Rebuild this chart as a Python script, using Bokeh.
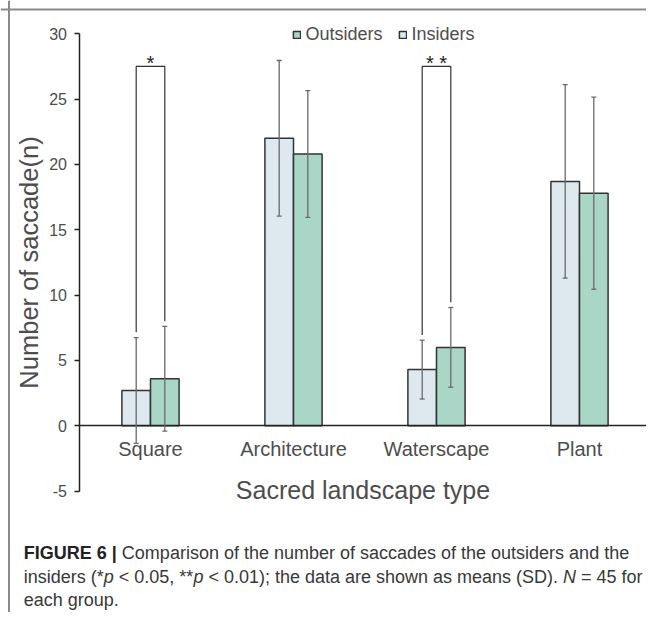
from bokeh.plotting import figure
from bokeh.models import (Range1d, FixedTicker, ColumnDataSource, Whisker, TeeHead,
                          Legend, LegendItem, Label, Span)
from bokeh.core.properties import value
from bokeh.embed import file_html
from bokeh.resources import INLINE

# ---------------- data ----------------
categories = ["Square", "Architecture", "Waterscape", "Plant"]
insiders_mean = [2.7, 22.0, 4.3, 18.7]
insiders_sd = [4.05, 5.95, 2.25, 7.4]
outsiders_mean = [3.6, 20.8, 6.0, 17.8]
outsiders_sd = [4.0, 4.85, 3.05, 7.35]
series_names = ["Outsiders", "Insiders"]
sig_index = [0, 2]
sig_height = [27.5, 27.5]
sig_marks = ["*", "* *"]
y_ticks = [-5, 0, 5, 10, 15, 20, 25, 30]
y_tick_labels = ["-5", "0", "5", "10", "15", "20", "25", "30"]
x_title = "Sacred landscape type"
y_title = "Number of saccade(n)"
caption = [
    [("FIGURE 6 |", "bold"), (" Comparison of the number of saccades of the outsiders and the", "normal")],
    [("insiders (*", "normal"), ("p", "italic"), (" < 0.05, **", "normal"), ("p", "italic"),
     (" < 0.01); the data are shown as means (SD). ", "normal"), ("N", "italic"), (" = 45 for", "normal")],
    [("each group.", "normal")],
]

# ---------------- styles ----------------
W, H = 646, 612
PX_PER_UNIT = 13.07
ZERO_Y = 425.3          # canvas px of y = 0
X0, DX = 150.0, 143.0   # canvas px of first category centre, spacing
BAR_W = 0.2
FONT = "Liberation Sans"
TXT = "#4d4d4d"
INS_COLOR = "#dde8ef"
OUT_COLOR = "#a9d6c6"
EDGE = "#333333"
ERR = "#6a6a6a"
LEG_GAP = 0.4

pos = list(range(len(categories)))
x_ins = [i - BAR_W / 2 for i in pos]
x_out = [i + BAR_W / 2 for i in pos]
ins_hi = [m + s for m, s in zip(insiders_mean, insiders_sd)]
ins_lo = [m - s for m, s in zip(insiders_mean, insiders_sd)]
out_hi = [m + s for m, s in zip(outsiders_mean, outsiders_sd)]
out_lo = [m - s for m, s in zip(outsiders_mean, outsiders_sd)]

src = ColumnDataSource(dict(x_ins=x_ins, x_out=x_out, ins=insiders_mean, out=outsiders_mean,
                            ins_hi=ins_hi, ins_lo=ins_lo, out_hi=out_hi, out_lo=out_lo))

p = figure(width=W, height=H, output_backend="svg", toolbar_location=None,
           x_range=Range1d(-X0 / DX, (W - X0) / DX),
           y_range=Range1d(-(H - ZERO_Y) / PX_PER_UNIT, ZERO_Y / PX_PER_UNIT),
           min_border=0, outline_line_color=None)
p.xgrid.visible = False
p.ygrid.visible = False
p.background_fill_color = "white"

# axes
xa = p.xaxis[0]
xa.fixed_location = 0
xa.bounds = (-0.5, len(categories) - 0.5)
xa.ticker = FixedTicker(ticks=pos)
xa.major_label_overrides = {i: c for i, c in zip(pos, categories)}
xa.major_tick_line_color = None
xa.minor_tick_line_color = None
xa.major_tick_out = 0
xa.major_label_standoff = 12
xa.axis_line_color = "#222222"
xa.axis_line_width = 1.5
xa.major_label_text_font = FONT
xa.major_label_text_font_size = "20px"
xa.major_label_text_color = TXT
xa.axis_label = x_title
xa.axis_label_text_font = FONT
xa.axis_label_text_font_size = "25px"
xa.axis_label_text_font_style = "normal"
xa.axis_label_text_color = TXT
xa.axis_label_standoff = 13

ya = p.yaxis[0]
ya.fixed_location = -0.5
ya.bounds = (y_ticks[0], y_ticks[-1])
ya.ticker = FixedTicker(ticks=y_ticks)
ya.major_label_overrides = {t: l for t, l in zip(y_ticks, y_tick_labels)}
ya.minor_tick_line_color = None
ya.major_tick_in = 0
ya.major_tick_out = 5
ya.major_tick_line_color = "#222222"
ya.major_tick_line_width = 1.5
ya.major_label_standoff = 7
ya.axis_line_color = "#222222"
ya.axis_line_width = 1.5
ya.major_label_text_font = FONT
ya.major_label_text_font_size = "16px"
ya.major_label_text_color = TXT
ya.axis_label = y_title
ya.axis_label_text_font = FONT
ya.axis_label_text_font_size = "25.5px"
ya.axis_label_text_font_style = "normal"
ya.axis_label_text_color = TXT
ya.axis_label_standoff = 4

# bars
r_ins = p.vbar(x="x_ins", top="ins", bottom=0, width=BAR_W, source=src,
               fill_color=INS_COLOR, line_color=EDGE, line_width=1.5)
r_out = p.vbar(x="x_out", top="out", bottom=0, width=BAR_W, source=src,
               fill_color=OUT_COLOR, line_color=EDGE, line_width=1.5)

# error bars
for base, up, lo in (("x_ins", "ins_hi", "ins_lo"), ("x_out", "out_hi", "out_lo")):
    p.add_layout(Whisker(source=src, base=base, upper=up, lower=lo, level="overlay",
                         line_color=ERR, line_width=1.3,
                         upper_head=TeeHead(size=5, line_color=ERR, line_width=1.3),
                         lower_head=TeeHead(size=5, line_color=ERR, line_width=1.3)))

# significance brackets
bx, by = [], []
for k, i in enumerate(sig_index):
    bx.append([x_ins[i], x_ins[i], x_out[i], x_out[i]])
    by.append([ins_hi[i] + LEG_GAP, sig_height[k], sig_height[k], out_hi[i] + LEG_GAP])
p.multi_line(xs=bx, ys=by, line_color="#333333", line_width=1.2)
p.text(x=[pos[i] for i in sig_index], y=sig_height, text=sig_marks,
       text_align="center", text_baseline="alphabetic", y_offset=-3,
       text_font=value(FONT), text_font_size="20px", text_color="#222222")

# legend
legend = Legend(items=[LegendItem(label=series_names[0], renderers=[r_out]),
                       LegendItem(label=series_names[1], renderers=[r_ins])],
                orientation="horizontal", location=(291.5, 567.5),
                padding=0, margin=0, spacing=15, label_standoff=5,
                glyph_width=9, glyph_height=9,
                label_text_font=FONT, label_text_font_size="18px", label_text_color=TXT,
                border_line_color=None, background_fill_alpha=0)
p.add_layout(legend)

# frame border of the figure panel
p.add_layout(Span(location=H - 9, dimension="width", location_units="screen",
                  line_color="#8a8a8a", line_width=2))
p.add_layout(Span(location=8.5, dimension="height", location_units="screen",
                  line_color="#8a8a8a", line_width=2))

# caption
CAP_FS = 18.0
AR = {' ': 278, '(': 333, ')': 333, '*': 389, ',': 278, '.': 278, ';': 278, '<': 584, '=': 584,
      '|': 260, 'C': 722, 'D': 722, 'N': 722, 'S': 667,
      'a': 556, 'b': 556, 'c': 500, 'd': 556, 'e': 556, 'f': 278, 'g': 556, 'h': 556, 'i': 222,
      'm': 833, 'n': 556, 'o': 556, 'p': 556, 'r': 333, 's': 500, 't': 278, 'u': 556, 'w': 722,
      'v': 500, 'y': 500}
ARB = {'F': 611, 'I': 278, 'G': 778, 'U': 722, 'R': 722, 'E': 667, ' ': 278, '|': 280}


def tw(s, style):
    tab = ARB if style == "bold" else AR
    return sum(tab.get(ch, 556) for ch in s) * CAP_FS / 1000.0


CAP_X0 = 23.3
CAP_BASE = [H - 552.5, H - 576.0, H - 599.5]
for line, yb in zip(caption, CAP_BASE):
    x = CAP_X0
    for seg, style in line:
        lead = len(seg) - len(seg.lstrip(" "))
        txt = seg.strip(" ")
        p.add_layout(Label(x=x + tw(" " * lead, style), y=yb, x_units="screen", y_units="screen",
                           text=txt, text_font=FONT, text_font_size=f"{CAP_FS}px",
                           text_font_style=style, text_baseline="alphabetic",
                           text_color="#222222" if style == "bold" else "#383838"))
        x += tw(seg, style)

open("out.html", "w").write(file_html(p, INLINE))
